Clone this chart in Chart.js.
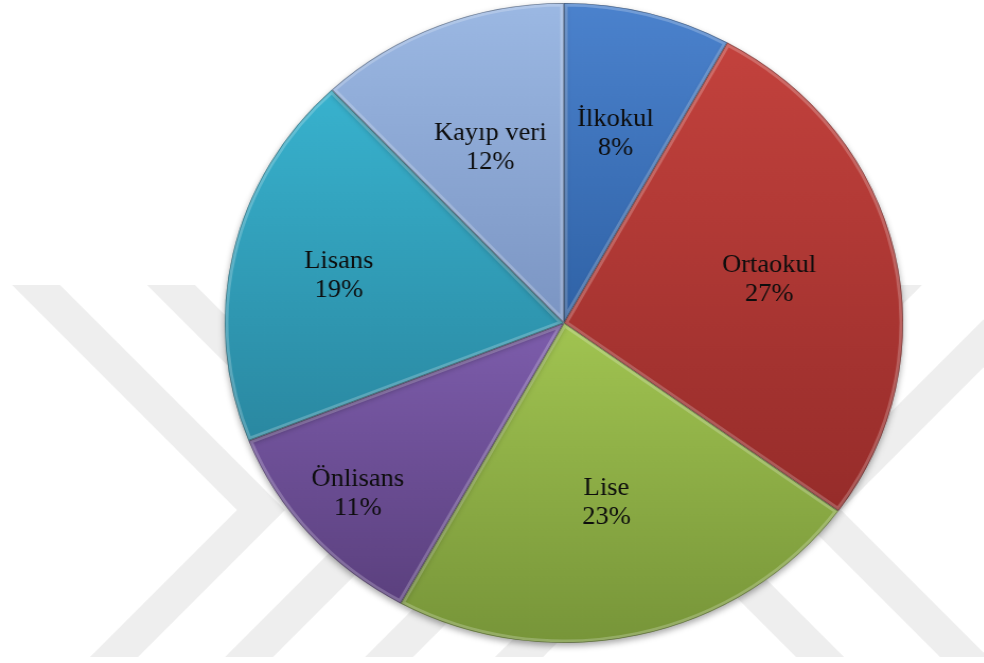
<!DOCTYPE html>
<html>
<head>
<meta charset="utf-8">
<script src="https://cdn.jsdelivr.net/npm/chart.js@4.4.1/dist/chart.umd.min.js"></script>
<style>
    html, body { margin: 0; padding: 0; background: #fff; overflow: hidden; }
    /* pie is a bit wider than tall, so stretch the whole chart sideways */
    #wrap { position: absolute; left: 0; top: 0; width: 928px; height: 663px; transform: scaleX(1.06); transform-origin: 0 0; }
</style>
</head>
<body>
<div id="wrap"><canvas id="cPie" width="928" height="663"></canvas></div>
<script>
// ==========================================
// Education level distribution (pie)
// ==========================================

const labels = ['İlkokul', 'Ortaokul', 'Lise', 'Önlisans', 'Lisans', 'Kayıp veri'];
const values = [8, 27, 23, 11, 19, 12];

// slice colours: light at the top of each slice, darker at the bottom
const topColors    = ['#4b82cd', '#c3423d', '#a1c451', '#7d5dac', '#38b2ce', '#9bb8e3'];
const bottomColors = ['#2f62a6', '#962c2a', '#779539', '#5b407e', '#2a88a1', '#7b95c3'];

// how far out along the slice the label sits (fraction of radius)
const labelRadius = [0.61, 0.62, 0.575, 0.81, 0.68, 0.59];

const STRETCH = 1.06;
const LABEL_FONT = '25px "Liberation Serif", "Times New Roman", serif';
const total = values.reduce((s, v) => s + v, 0);

function sliceGradient(c) {
    const i = c.dataIndex;
    const chart = c.chart, a = chart.chartArea;
    if (!a) return topColors[i];
    const cx = (a.left + a.right) / 2, cy = (a.top + a.bottom) / 2;
    const r = Math.min(a.right - a.left, a.bottom - a.top) / 2;
    const before = values.slice(0, i).reduce((s, v) => s + v, 0);
    const start = before / total * 2 * Math.PI - Math.PI / 2;
    const end = start + values[i] / total * 2 * Math.PI;
    const ys = [cy, cy + r * Math.sin(start), cy + r * Math.sin(end)];
    [-Math.PI / 2, Math.PI / 2, 3 * Math.PI / 2].forEach(t => {
        if (t >= start && t <= end) ys.push(cy + r * Math.sin(t));
    });
    const g = chart.ctx.createLinearGradient(0, Math.min(...ys), 0, Math.max(...ys));
    g.addColorStop(0, topColors[i]);
    g.addColorStop(1, bottomColors[i]);
    return g;
}

// faint chevron watermark behind the pie (screen coords, undo the stretch)
const watermark = {
    id: 'watermark',
    beforeDraw(chart) {
        const ctx = chart.ctx;
        ctx.save();
        ctx.scale(1 / STRETCH, 1);
        ctx.fillStyle = '#eeeeee';
        const right = [12, 147, 287, 417];   // ">" shapes, left edge at the top
        const left = [922, 1066];            // "<" shapes, right edge at the top
        right.forEach(x => {
            ctx.beginPath();
            ctx.moveTo(x, 285); ctx.lineTo(x + 48, 285); ctx.lineTo(x + 273, 510);
            ctx.lineTo(x + 126, 657); ctx.lineTo(x + 78, 657); ctx.lineTo(x + 225, 510);
            ctx.closePath(); ctx.fill();
        });
        left.forEach(x => {
            ctx.beginPath();
            ctx.moveTo(x, 285); ctx.lineTo(x - 48, 285); ctx.lineTo(x - 273, 510);
            ctx.lineTo(x - 126, 657); ctx.lineTo(x - 78, 657); ctx.lineTo(x - 225, 510);
            ctx.closePath(); ctx.fill();
        });
        ctx.restore();
    }
};

// soft drop shadow + bevel-ish edges on each slice
const bevel = {
    id: 'bevel',
    beforeDatasetsDraw(chart) {
        const ctx = chart.ctx;
        ctx.save();
        ctx.shadowColor = 'rgba(0,0,0,0.35)';
        ctx.shadowBlur = 6;
        ctx.shadowOffsetY = 3;
    },
    afterDatasetsDraw(chart) {
        const ctx = chart.ctx;
        ctx.restore();
        chart.getDatasetMeta(0).data.forEach(el => {
            const p = el.getProps(['x', 'y', 'startAngle', 'endAngle', 'outerRadius'], true);
            ctx.save();
            ctx.beginPath();
            ctx.moveTo(p.x, p.y);
            ctx.arc(p.x, p.y, p.outerRadius, p.startAngle, p.endAngle);
            ctx.closePath();
            ctx.clip();
            ctx.lineJoin = 'round';
            ctx.strokeStyle = 'rgba(255,255,255,0.22)';
            ctx.lineWidth = 7;
            ctx.stroke();
            ctx.strokeStyle = 'rgba(0,0,0,0.35)';
            ctx.lineWidth = 1.5;
            ctx.stroke();
            ctx.restore();
        });
    }
};

// two-line labels: name + percent
const sliceLabels = {
    id: 'sliceLabels',
    afterDatasetsDraw(chart) {
        const ctx = chart.ctx;
        ctx.save();
        ctx.font = LABEL_FONT;
        ctx.fillStyle = '#0d0d0d';
        ctx.textAlign = 'center';
        ctx.textBaseline = 'middle';
        chart.getDatasetMeta(0).data.forEach((el, i) => {
            const p = el.getProps(['x', 'y', 'startAngle', 'endAngle', 'outerRadius'], true);
            const mid = (p.startAngle + p.endAngle) / 2;
            const d = p.outerRadius * labelRadius[i];
            const lx = p.x + Math.cos(mid) * d;
            const ly = p.y + Math.sin(mid) * d;
            const pct = Math.round(values[i] / total * 100) + '%';
            ctx.fillText(labels[i], lx, ly - 14.5);
            ctx.fillText(pct, lx, ly + 14.5);
        });
        ctx.restore();
    }
};

new Chart(document.getElementById('cPie'), {
    type: 'pie',
    data: {
        labels: labels,
        datasets: [{
            data: values,
            backgroundColor: sliceGradient,
            borderWidth: 0
        }]
    },
    options: {
        responsive: false,
        animation: false,
        events: [],
        layout: { padding: { left: 212, right: 76, top: 3, bottom: 20 } },
        plugins: { legend: { display: false }, tooltip: { enabled: false } }
    },
    plugins: [watermark, bevel, sliceLabels]
});
</script>
</body>
</html>
